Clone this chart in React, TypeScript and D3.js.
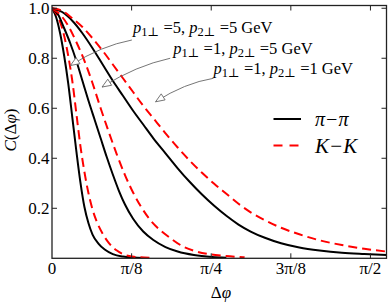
import { useEffect, useRef } from 'react';
import * as d3 from 'd3';

const W = 389;
const H = 307;
const SERIF = "'Liberation Serif', 'DejaVu Serif', 'Times New Roman', serif";

// Δφ (rad) / C(Δφ)
const piNarrowX = [0, 0.02, 0.04, 0.06, 0.08, 0.1, 0.12, 0.14, 0.16, 0.18, 0.2, 0.23, 0.26, 0.3, 0.35, 0.4, 0.45];
const piNarrowY = [1, 0.965, 0.9, 0.81, 0.7, 0.565, 0.43, 0.305, 0.205, 0.14, 0.095, 0.058, 0.035, 0.017, 0.007, 0.003, 0.001];
const kNarrowX = [0, 0.02, 0.04, 0.06, 0.08, 0.1, 0.12, 0.14, 0.16, 0.18, 0.2, 0.22, 0.25, 0.28, 0.32, 0.36, 0.42, 0.5];
const kNarrowY = [1, 0.98, 0.945, 0.89, 0.81, 0.71, 0.58, 0.45, 0.345, 0.26, 0.195, 0.148, 0.098, 0.062, 0.031, 0.014, 0.005, 0.002];
const piMidX = [0, 0.03, 0.06, 0.09, 0.12, 0.15, 0.18, 0.21, 0.24, 0.27, 0.3, 0.33, 0.36, 0.4, 0.45, 0.5, 0.56, 0.62, 0.7, 0.79, 0.86];
const piMidY = [1, 0.975, 0.92, 0.86, 0.79, 0.71, 0.63, 0.555, 0.48, 0.405, 0.335, 0.27, 0.215, 0.158, 0.107, 0.073, 0.045, 0.027, 0.013, 0.005, 0.002];
const kMidX = [0, 0.04, 0.08, 0.12, 0.16, 0.2, 0.24, 0.28, 0.32, 0.36, 0.4, 0.44, 0.48, 0.53, 0.58, 0.64, 0.7, 0.77, 0.85, 0.95];
const kMidY = [1, 0.975, 0.93, 0.865, 0.79, 0.7, 0.6, 0.505, 0.415, 0.333, 0.263, 0.205, 0.158, 0.115, 0.083, 0.05, 0.03, 0.017, 0.01, 0.004];
const piWideX = [0, 0.05, 0.1, 0.15, 0.2, 0.25, 0.3, 0.35, 0.4, 0.45, 0.5, 0.56, 0.62, 0.68, 0.74, 0.8, 0.86, 0.92, 0.98, 1.05, 1.13, 1.22, 1.32, 1.43, 1.54, 1.65];
const piWideY = [1, 0.985, 0.95, 0.9, 0.84, 0.775, 0.71, 0.65, 0.59, 0.535, 0.48, 0.42, 0.36, 0.305, 0.255, 0.21, 0.17, 0.135, 0.107, 0.082, 0.06, 0.043, 0.031, 0.022, 0.017, 0.013];
const kWideX = [0, 0.05, 0.1, 0.15, 0.2, 0.25, 0.3, 0.35, 0.4, 0.45, 0.5, 0.56, 0.62, 0.68, 0.74, 0.8, 0.86, 0.92, 0.98, 1.05, 1.13, 1.22, 1.32, 1.43, 1.54, 1.65];
const kWideY = [1, 0.99, 0.96, 0.925, 0.88, 0.83, 0.775, 0.72, 0.665, 0.61, 0.56, 0.5, 0.443, 0.39, 0.342, 0.298, 0.258, 0.218, 0.184, 0.152, 0.122, 0.096, 0.072, 0.053, 0.038, 0.027];

const xTickVals = [0, Math.PI / 8, Math.PI / 4, (3 * Math.PI) / 8, Math.PI / 2];
const xTickLabels = ['0', 'π/8', 'π/4', '3π/8', 'π/2'];
const yTickVals = [0.2, 0.4, 0.6, 0.8, 1.0];

// annotations: momenta, text anchor, arrow tail, arrow tip (data coords)
const notePT = [['5', '5'], ['1', '5'], ['1', '1']];
const noteText = [[0.4, 0.9], [0.598, 0.817], [0.797, 0.737]];
const noteTail = [[0.394, 0.873], [0.583, 0.8], [0.797, 0.72]];
const noteTip = [[0.091, 0.771], [0.247, 0.685], [0.511, 0.626]];

const legendNames = ['π−π', 'K−K'];

export default function App() {
  const svgRef = useRef<SVGSVGElement>(null);

  useEffect(() => {
    const svg = d3.select(svgRef.current);
    svg.selectAll('*').remove();
    svg.style('font-family', SERIF);

    const x = d3.scaleLinear().domain([0, 1.65]).range([52, 386.5]);
    const y = d3.scaleLinear().domain([0, 1.011]).range([258.3, 5.5]);
    const [x0, x1] = x.range();
    const [y0, y1] = y.range();

    svg.append('defs').append('clipPath').attr('id', 'plot')
      .append('rect').attr('x', x0).attr('y', y1).attr('width', x1 - x0).attr('height', y0 - y1);

    const series = [
      { xs: piNarrowX, ys: piNarrowY, k: false },
      { xs: kNarrowX, ys: kNarrowY, k: true },
      { xs: piMidX, ys: piMidY, k: false },
      { xs: kMidX, ys: kMidY, k: true },
      { xs: piWideX, ys: piWideY, k: false },
      { xs: kWideX, ys: kWideY, k: true },
    ];

    const line = d3.line<[number, number]>()
      .x(d => x(d[0])).y(d => y(d[1]))
      .curve(d3.curveMonotoneX);

    const g = svg.append('g').attr('clip-path', 'url(#plot)');
    series.forEach(s => {
      const pts = s.xs.map((v, i) => [v, s.ys[i]] as [number, number]);
      g.append('path').attr('d', line(pts))
        .attr('fill', 'none')
        .attr('stroke', s.k ? '#ff0000' : '#000')
        .attr('stroke-width', 2)
        .attr('stroke-dasharray', s.k ? '9,5' : null);
    });

    // frame + inward ticks
    svg.append('rect').attr('x', x0).attr('y', y1).attr('width', x1 - x0).attr('height', y0 - y1)
      .attr('fill', 'none').attr('stroke', '#222').attr('stroke-width', 1.3);
    const T = 5;
    xTickVals.slice(1).forEach(v => {
      svg.append('line').attr('x1', x(v)).attr('x2', x(v)).attr('y1', y0).attr('y2', y0 - T).attr('stroke', '#222');
      svg.append('line').attr('x1', x(v)).attr('x2', x(v)).attr('y1', y1).attr('y2', y1 + T).attr('stroke', '#222');
    });
    yTickVals.forEach(v => {
      svg.append('line').attr('x1', x0).attr('x2', x0 + T).attr('y1', y(v)).attr('y2', y(v)).attr('stroke', '#222');
      svg.append('line').attr('x1', x1).attr('x2', x1 - T).attr('y1', y(v)).attr('y2', y(v)).attr('stroke', '#222');
    });

    // tick labels
    xTickVals.forEach((v, i) => {
      svg.append('text').attr('x', x(v)).attr('y', 274)
        .attr('text-anchor', 'middle').attr('font-size', 17)
        .text(xTickLabels[i]);
    });
    yTickVals.forEach(v => {
      svg.append('text').attr('x', 49.5).attr('y', y(v)).attr('dy', '0.36em')
        .attr('text-anchor', 'end').attr('font-size', 17)
        .text(v.toFixed(1));
    });

    // axis titles
    const xt = svg.append('text').attr('x', 221).attr('y', 298)
      .attr('text-anchor', 'middle').attr('font-size', 17);
    xt.append('tspan').text('Δ');
    xt.append('tspan').attr('font-style', 'italic').text('φ');

    const yt = svg.append('text').attr('transform', 'translate(16,130) rotate(-90)')
      .attr('text-anchor', 'middle').attr('font-size', 17);
    yt.append('tspan').attr('font-style', 'italic').text('C');
    yt.append('tspan').text('(Δ');
    yt.append('tspan').attr('font-style', 'italic').text('φ');
    yt.append('tspan').text(')');

    // annotations
    notePT.forEach((pt, i) => {
      const t = svg.append('text').attr('x', x(noteText[i][0])).attr('y', y(noteText[i][1]))
        .attr('font-size', 16.5);
      t.append('tspan').attr('font-style', 'italic').text('p');
      t.append('tspan').attr('font-size', 12.5).attr('dy', 3).text('1⊥');
      t.append('tspan').attr('dy', -3).text(` =${pt[0]}, `);
      t.append('tspan').attr('font-style', 'italic').text('p');
      t.append('tspan').attr('font-size', 12.5).attr('dy', 3).text('2⊥');
      t.append('tspan').attr('dy', -3).text(` =${pt[1]} GeV`);

      const p0 = [x(noteTail[i][0]), y(noteTail[i][1])];
      const p2 = [x(noteTip[i][0]), y(noteTip[i][1])];
      const c = [(p0[0] + p2[0]) / 2, (p0[1] + p2[1]) / 2 - 7];
      svg.append('path')
        .attr('d', `M${p0[0]},${p0[1]}Q${c[0]},${c[1]} ${p2[0]},${p2[1]}`)
        .attr('fill', 'none').attr('stroke', '#666').attr('stroke-width', 0.9);
      const a = Math.atan2(p2[1] - c[1], p2[0] - c[0]);
      const L = 9, w = 3.6;
      const bx = p2[0] - L * Math.cos(a), by = p2[1] - L * Math.sin(a);
      const pts = [
        [p2[0], p2[1]],
        [bx - w * Math.sin(a), by + w * Math.cos(a)],
        [bx + w * Math.sin(a), by - w * Math.cos(a)],
      ];
      svg.append('polygon').attr('points', pts.map(p => p.join(',')).join(' '))
        .attr('fill', '#fff').attr('stroke', '#666').attr('stroke-width', 0.9);
    });

    // legend
    legendNames.forEach((name, i) => {
      const ly = 119 + i * 26.5;
      svg.append('line').attr('x1', 273.5).attr('x2', 301).attr('y1', ly).attr('y2', ly)
        .attr('stroke', i ? '#ff0000' : '#000').attr('stroke-width', 2)
        .attr('stroke-dasharray', i ? '9,7' : null);
      svg.append('text').attr('x', 315).attr('y', ly).attr('dy', '0.35em')
        .attr('font-style', 'italic').attr('font-size', i ? 21 : 20)
        .text(name);
    });
  }, []);

  return (
    <svg ref={svgRef} width={W} height={H}
      style={{ position: 'absolute', left: 0, top: 0, background: '#fff' }} />
  );
}
